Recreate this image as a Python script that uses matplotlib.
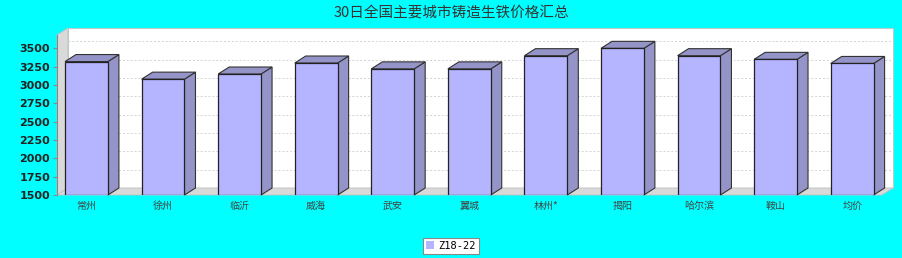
import matplotlib
matplotlib.use('Agg')
import matplotlib.pyplot as plt
from matplotlib.patches import Polygon, Rectangle

plt.rcParams['font.family'] = ['Noto Sans CJK SC', 'DejaVu Sans']

# 数据
cities = ['常州', '徐州', '临沂', '威海', '武安', '翼城', '林州*', '揭阳', '哈尔滨', '鞍山', '均价']
prices = [3320, 3080, 3150, 3300, 3220, 3220, 3400, 3500, 3400, 3350, 3294]
yticks = [1500, 1750, 2000, 2250, 2500, 2750, 3000, 3250, 3500]
series_name = 'Z18-22'
title = '30日全国主要城市铸造生铁价格汇总'

W, H = 902, 258
fig = plt.figure(figsize=(W / 100, H / 100), dpi=100, facecolor='#00ffff')

# 轴区域(像素)
left, right, top, bottom = 57, 882, 35, 195
ax = fig.add_axes([left / W, (H - bottom) / H, (right - left) / W, (bottom - top) / H])
ax.set_facecolor('none')

xlo, xhi = -0.385, 10.39
ylo, yhi = 1500, 3682
ax.set_xlim(xlo, xhi)
ax.set_ylim(ylo, yhi)

# 3D偏移
dpx, dpy = 11, 7
fx = dpx / (right - left)
fy = dpy / (bottom - top)
ddx = fx * (xhi - xlo)
ddy = fy * (yhi - ylo)

wall = '#d9d9d9'
# 后墙
ax.add_patch(Rectangle((fx, fy), 1, 1, transform=ax.transAxes, facecolor='white',
                       edgecolor='#b8cccc', lw=0.8, clip_on=False, zorder=0))
# 左墙
ax.add_patch(Polygon([(0, 0), (fx, fy), (fx, 1 + fy), (0, 1)], closed=True,
                     transform=ax.transAxes, facecolor=wall, edgecolor='#c0c0c0',
                     lw=0.6, clip_on=False, zorder=0.5))
# 地板
ax.add_patch(Polygon([(0, 0), (1, 0), (1 + fx, fy), (fx, fy)], closed=True,
                     transform=ax.transAxes, facecolor=wall, edgecolor='#c0c0c0',
                     lw=0.6, clip_on=False, zorder=0.5))

# 网格线(在后墙上)
for t in yticks[1:]:
    ax.plot([xlo + ddx, xhi + ddx], [t + ddy, t + ddy], ls=(0, (2, 2)), color='#d4d4d4',
            lw=0.7, clip_on=False, zorder=0.6)

# 柱子
bw = 0.56
xs = list(range(len(cities)))
side_c = '#9494c8'
ax.bar(xs, [p - ylo for p in prices], bottom=ylo, width=bw, color='#b4b4ff',
       edgecolor='#222222', lw=0.9, zorder=3, label=series_name)
for x, p in zip(xs, prices):
    x0, x1 = x - bw / 2, x + bw / 2
    ax.add_patch(Polygon([(x1, ylo), (x1 + ddx, ylo + ddy), (x1 + ddx, p + ddy), (x1, p)],
                         closed=True, facecolor=side_c, edgecolor='#333333', lw=0.8,
                         clip_on=False, zorder=2))
    ax.add_patch(Polygon([(x0, p), (x1, p), (x1 + ddx, p + ddy), (x0 + ddx, p + ddy)],
                         closed=True, facecolor=side_c, edgecolor='#333333', lw=0.8,
                         clip_on=False, zorder=2))

ax.set_yticks(yticks)
ax.set_yticklabels([str(t) for t in yticks], fontsize=8, color='#222222',
                   family='DejaVu Sans', fontweight='semibold')
ax.set_xticks(xs)
ax.set_xticklabels(cities, fontsize=7.2, color='#444444')
ax.tick_params(axis='y', length=3, color='#888888', pad=2)
ax.tick_params(axis='x', length=0, pad=4)
for s in ['top', 'right', 'bottom']:
    ax.spines[s].set_visible(False)
ax.spines['left'].set_color('#888888')
ax.spines['left'].set_linewidth(0.8)

fig.text(0.5, 1 - 13 / H, title, ha='center', va='center', fontsize=10.5, color='#333333')

leg = fig.legend(loc='center', bbox_to_anchor=(451 / W, 1 - 246 / H),
                 frameon=True, fancybox=False, handlelength=0.8, handleheight=0.8,
                 handletextpad=0.4, borderpad=0.3, prop={'family': 'DejaVu Sans Mono', 'size': 7.5})
leg.get_frame().set_edgecolor('#888888')
leg.get_frame().set_facecolor('white')
leg.get_frame().set_alpha(1)
leg.get_frame().set_linewidth(0.8)
for h in leg.legend_handles:
    h.set_edgecolor('none')

fig.savefig('out.png', dpi=100, facecolor=fig.get_facecolor())
